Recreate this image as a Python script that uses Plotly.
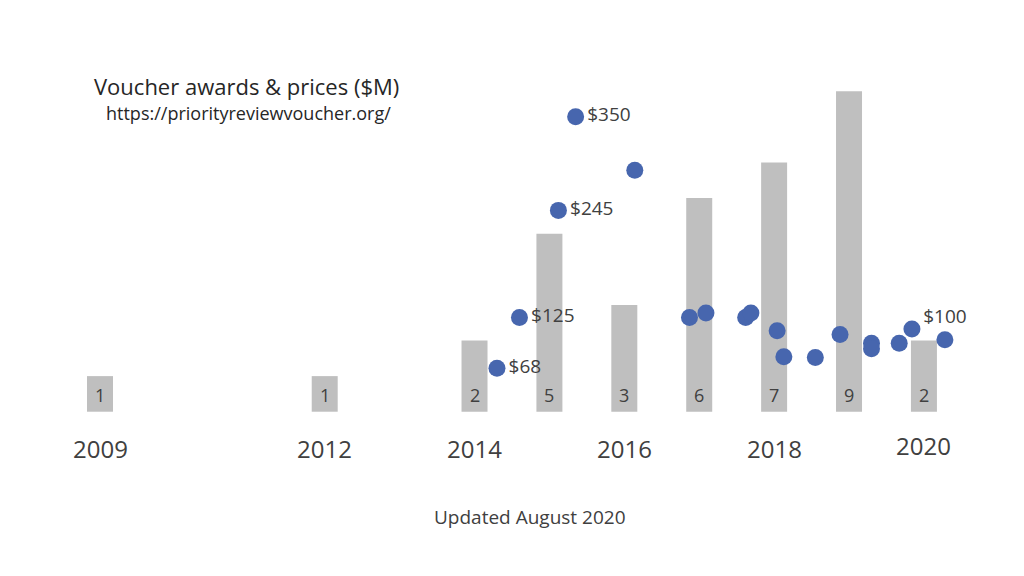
import plotly.graph_objects as go

# ---- data ----
bar_years = [2009, 2012, 2014, 2015, 2016, 2017, 2018, 2019, 2020]
bar_counts = [1, 1, 2, 5, 3, 6, 7, 9, 2]

price_dates = [2014.30, 2014.60, 2015.12, 2015.35, 2016.14, 2016.87, 2017.09,
               2017.62, 2017.69, 2018.04, 2018.13, 2018.55, 2018.88, 2019.30,
               2019.30, 2019.67, 2019.84, 2020.28]
prices = [68, 125, 245, 350, 290, 125, 130, 125, 130, 110, 81, 80, 106, 96,
          90, 96, 112, 100]
price_labels = ["$68", "$125", "$245", "$350", "", "", "", "", "", "", "", "",
                "", "", "", "", "", "$100"]
label_pos = ["middle right"] * 17 + ["top center"]

tick_years = [2009, 2012, 2014, 2016, 2018, 2020]
tick_text = ["2009", "2012", "2014", "2016", "2018", "2020"]

FONT = "Open Sans"
GREY_TXT = "#404040"

fig = go.Figure()
fig.add_trace(go.Bar(
    x=bar_years, y=bar_counts, width=0.347,
    marker=dict(color="#bfbfbf", line=dict(width=0)),
    yaxis="y", hoverinfo="skip", showlegend=False,
))
fig.add_trace(go.Scatter(
    x=price_dates, y=prices, mode="markers+text",
    marker=dict(size=17, color="#4766ae"),
    text=price_labels, textposition=label_pos,
    textfont=dict(family=FONT, size=19, color=GREY_TXT),
    yaxis="y2", showlegend=False, cliponaxis=False,
))

annotations = []
# count labels inside the bars, near their base
for yr, c in zip(bar_years, bar_counts):
    annotations.append(dict(
        x=yr, y=0, xref="x", yref="y", text=str(c), showarrow=False,
        xanchor="center", yanchor="middle", yshift=17,
        font=dict(family=FONT, size=18, color=GREY_TXT),
    ))
# year labels
for yr, tt in zip(tick_years, tick_text):
    annotations.append(dict(
        x=yr, y=1 - 448 / 576, xref="x", yref="paper", text=tt,
        xanchor="center", yanchor="middle",
        showarrow=False, font=dict(family=FONT, size=24, color=GREY_TXT),
        yshift=3 if yr == 2020 else 0,
    ))
annotations += [
    dict(x=246 / 1024, y=1 - 86 / 576, xref="paper", yref="paper",
         xanchor="center", yanchor="middle",
         text="Voucher awards &amp; prices ($M)", showarrow=False,
         font=dict(family=FONT, size=22, color="#262626")),
    dict(x=248 / 1024, y=1 - 113 / 576, xref="paper", yref="paper",
         xanchor="center", yanchor="middle",
         text="https://priorityreviewvoucher.org/", showarrow=False,
         font=dict(family=FONT, size=18, color="#262626")),
    dict(x=530 / 1024, y=1 - 517 / 576, xref="paper", yref="paper",
         xanchor="center", yanchor="middle",
         text="Updated August 2020", showarrow=False,
         font=dict(family=FONT, size=19, color=GREY_TXT)),
]

fig.update_layout(
    width=1024, height=576,
    margin=dict(l=0, r=0, t=0, b=0, pad=0),
    paper_bgcolor="white", plot_bgcolor="white",
    xaxis=dict(range=[2007.665, 2021.336], visible=False, domain=[0, 1]),
    yaxis=dict(range=[-4.615, 11.565], visible=False, domain=[0, 1]),
    yaxis2=dict(range=[-164.8, 480.8], visible=False, overlaying="y"),
    annotations=annotations,
    font=dict(family=FONT),
)

fig.write_html("out.html", config={"displayModeBar": False},
               post_script="document.body.style.margin='0';")
